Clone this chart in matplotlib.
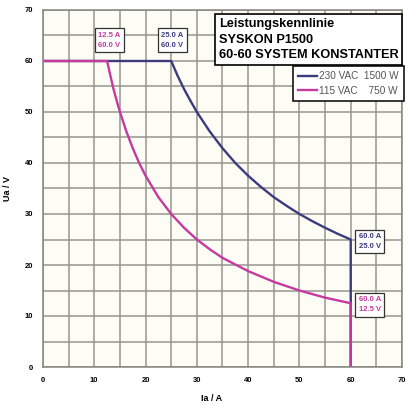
import matplotlib.pyplot as plt

# --- DATA ---
# 230 VAC / 1500 W characteristic
i_230 = [0, 25, 26.25, 27.5, 28.75, 30, 32.5, 35, 37.5, 40, 42.5, 45, 47.5, 50, 52.5, 55, 57.5, 60, 60]
u_230 = [60, 60, 57.1, 54.5, 52.2, 50, 46.2, 42.9, 40, 37.5, 35.3, 33.3, 31.6, 30, 28.6, 27.3, 26.1, 25, 0]

# 115 VAC / 750 W characteristic
i_115 = [0, 12.5, 13.1, 13.75, 14.4, 15, 16.25, 17.5, 18.75, 20, 22.5, 25, 27.5, 30, 32.5, 35,
         40, 45, 50, 55, 60, 60]
u_115 = [60, 60, 57.3, 54.5, 52.1, 50, 46.2, 42.9, 40, 37.5, 33.3, 30, 27.3, 25, 23.1, 21.4,
         18.8, 16.7, 15, 13.6, 12.5, 0]

series_names = ['230 VAC  1500 W', '115 VAC    750 W']
corner_230 = [(25.0, 60.0), (60.0, 25.0)]
corner_115 = [(12.5, 60.0), (60.0, 12.5)]
title_lines = ['Leistungskennlinie', 'SYSKON P1500', '60-60 SYSTEM KONSTANTER']
ticks = [0, 10, 20, 30, 40, 50, 60, 70]

BLUE = '#3b3b7e'
PINK = '#c43a9e'

plt.rcParams['font.family'] = ['Liberation Sans', 'DejaVu Sans']

fig = plt.figure(figsize=(4.08, 4.05), dpi=100)
ax = fig.add_axes([43 / 408, 38 / 405, 359 / 408, 357 / 405])
ax.set_facecolor('#fdfdf5')

ax.set_xlim(0, 70)
ax.set_ylim(0, 70)
ax.set_xticks(ticks)
ax.set_yticks(ticks)
ax.set_xticks(range(5, 70, 10), minor=True)
ax.set_yticks(range(5, 70, 10), minor=True)
ax.grid(True, which='both', color='#96968e', linewidth=1.1)
ax.set_axisbelow(True)
ax.tick_params(which='both', length=0, labelsize=5.5, pad=7)
for lbl in ax.get_xticklabels() + ax.get_yticklabels():
    lbl.set_fontweight('bold')
for sp in ax.spines.values():
    sp.set_color('#86867f')
    sp.set_linewidth(1.1)

ax.plot(i_230, u_230, color=BLUE, linewidth=1.7, label=series_names[0])
ax.plot(i_115, u_115, color=PINK, linewidth=1.7, label=series_names[1])

ax.set_xlabel('Ia / A', fontsize=6.5, fontweight='bold', labelpad=2)
ax.xaxis.set_label_coords(0.47, -0.075)
ax.set_ylabel('Ua / V', fontsize=6.5, fontweight='bold')
ax.yaxis.set_label_coords(-0.085, 0.5)

# Corner point labels
box = dict(boxstyle='square,pad=0.45', facecolor='white', edgecolor='#333333', linewidth=0.9)
label_pos = {
    corner_115[0]: (12.9, 64.1),
    corner_230[0]: (25.2, 64.1),
    corner_230[1]: (63.7, 24.6),
    corner_115[1]: (63.7, 12.2),
}
for pts, col in ((corner_230, BLUE), (corner_115, PINK)):
    for (ia, ua) in pts:
        x, y = label_pos[(ia, ua)]
        ax.text(x, y, f'{ia:.1f} A\n{ua:.1f} V', color=col, fontsize=5.5, fontweight='bold',
                ha='center', va='center', linespacing=1.6, bbox=box, zorder=5)

# Title box
ax.text(34.3, 68.4, '\n'.join(title_lines), fontsize=9.2, fontweight='bold', ha='left', va='top',
        linespacing=1.38, zorder=6,
        bbox=dict(boxstyle='square,pad=0.3', facecolor='white', edgecolor='black', linewidth=1.2))

leg = ax.legend(loc='upper right', bbox_to_anchor=(1.005, 0.843), fontsize=7.2, handlelength=1.9,
                handletextpad=0.2, borderpad=0.5, labelspacing=0.45, fancybox=False,
                framealpha=1, edgecolor='black', borderaxespad=0.0)
leg.get_frame().set_linewidth(1.1)
for t in leg.get_texts():
    t.set_color('#555555')

plt.savefig('out.png', dpi=100)
